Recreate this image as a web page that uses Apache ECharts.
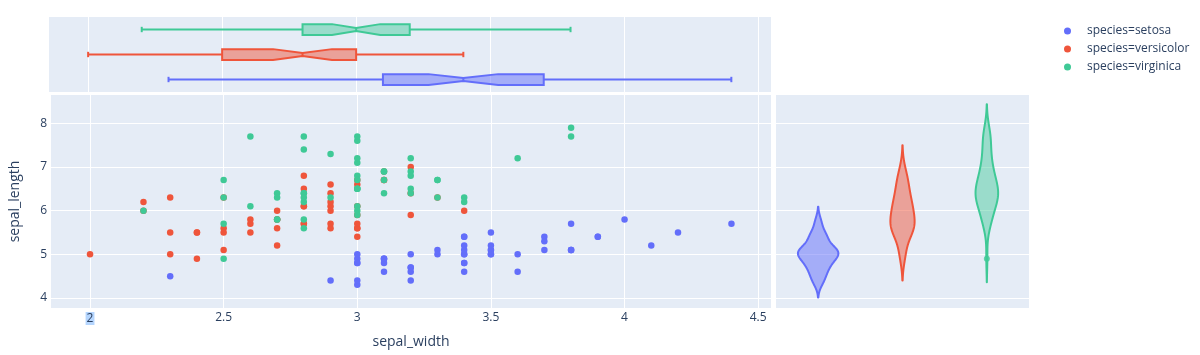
<!DOCTYPE html>
<html><head><meta charset="utf-8">
<script src="https://cdn.jsdelivr.net/npm/echarts@6/dist/echarts.min.js"></script>
<style>html,body{margin:0;padding:0;background:#fff}#c{width:1200px;height:355px}</style>
</head><body><div id="c"></div>
<script>
// ---------- data ----------
const speciesNames = ['setosa', 'versicolor', 'virginica'];
const legendNames = ['species=setosa', 'species=versicolor', 'species=virginica'];

const setosaSepalWidth = [3.5,3.0,3.2,3.1,3.6,3.9,3.4,3.4,2.9,3.1,3.7,3.4,3.0,3.0,4.0,4.4,3.9,3.5,3.8,3.8,3.4,3.7,3.6,3.3,3.4,3.0,3.4,3.5,3.4,3.2,3.1,3.4,4.1,4.2,3.1,3.2,3.5,3.1,3.0,3.4,3.5,2.3,3.2,3.5,3.8,3.0,3.8,3.2,3.7,3.3];
const setosaSepalLength = [5.1,4.9,4.7,4.6,5.0,5.4,4.6,5.0,4.4,4.9,5.4,4.8,4.8,4.3,5.8,5.7,5.4,5.1,5.7,5.1,5.4,5.1,4.6,5.1,4.8,5.0,5.0,5.2,5.2,4.7,4.8,5.4,5.2,5.5,4.9,5.0,5.5,4.9,4.4,5.1,5.0,4.5,4.4,5.0,5.1,4.8,5.1,4.6,5.3,5.0];

const versicolorSepalWidth = [3.2,3.2,3.1,2.3,2.8,2.8,3.3,2.4,2.9,2.7,2.0,3.0,2.2,2.9,2.9,3.1,3.0,2.7,2.2,2.5,3.2,2.8,2.5,2.8,2.9,3.0,2.8,3.0,2.9,2.6,2.4,2.4,2.7,2.7,3.0,3.4,3.1,2.3,3.0,2.5,2.6,3.0,2.6,2.3,2.7,3.0,2.9,2.9,2.5,2.8];
const versicolorSepalLength = [7.0,6.4,6.9,5.5,6.5,5.7,6.3,4.9,6.6,5.2,5.0,5.9,6.0,6.1,5.6,6.7,5.6,5.8,6.2,5.6,5.9,6.1,6.3,6.1,6.4,6.6,6.8,6.7,6.0,5.7,5.5,5.5,5.8,6.0,5.4,6.0,6.7,6.3,5.6,5.5,5.5,6.1,5.8,5.0,5.6,5.7,5.7,6.2,5.1,5.7];

const virginicaSepalWidth = [3.3,2.7,3.0,2.9,3.0,3.0,2.5,2.9,2.5,3.6,3.2,2.7,3.0,2.5,2.8,3.2,3.0,3.8,2.6,2.2,3.2,2.8,2.8,2.7,3.3,3.2,2.8,3.0,2.8,3.0,2.8,3.8,2.8,2.8,2.6,3.0,3.4,3.1,3.0,3.1,3.1,3.1,2.7,3.2,3.3,3.0,2.5,3.0,3.4,3.0];
const virginicaSepalLength = [6.3,5.8,7.1,6.3,6.5,7.6,4.9,7.3,6.7,7.2,6.5,6.4,6.8,5.7,5.8,6.4,6.5,7.7,7.7,6.0,6.9,5.6,7.7,6.3,6.7,7.2,6.2,6.1,6.4,7.2,7.4,7.9,6.4,6.3,6.1,7.7,6.3,6.4,6.0,6.9,6.7,6.9,5.8,6.8,6.7,6.7,6.3,6.5,6.2,5.9];

// marginal box statistics of sepal_width
const boxMin = [2.3, 2.0, 2.2];
const boxQ1 = [3.1, 2.5, 2.8];
const boxMedian = [3.4, 2.8, 3.0];
const boxQ3 = [3.7, 3.0, 3.2];
const boxMax = [4.4, 3.4, 3.8];
const boxNotchLow = [3.27, 2.69, 2.91];
const boxNotchHigh = [3.53, 2.91, 3.09];

// violin outlier points of sepal_length
const violinOutliers = [[], [], [4.9]];

const xTicks = [2, 2.5, 3, 3.5, 4, 4.5];
const yTicks = [4, 5, 6, 7, 8];
const xRange = [1.854, 4.548];
const yRange = [3.77, 8.65];

// ---------- styling ----------
const colors = ['#636efa', '#EF553B', '#3fc996'];
const fills = ['rgba(99,110,250,0.5)', 'rgba(239,85,59,0.5)', 'rgba(63,201,150,0.45)'];
const textColor = '#2a3f5f';
const font = '"Open Sans", verdana, arial, sans-serif';
const plotBg = '#E5ECF6';

const widths = [setosaSepalWidth, versicolorSepalWidth, virginicaSepalWidth];
const lengths = [setosaSepalLength, versicolorSepalLength, virginicaSepalLength];

// ---------- violin KDE (from sepal_length data) ----------
function quantile(sorted, p) {
  const n = sorted.length;
  let pos = (n + 1) * p - 1;
  pos = Math.max(0, Math.min(n - 1, pos));
  const lo = Math.floor(pos), f = pos - lo;
  const hi = Math.min(lo + 1, n - 1);
  return sorted[lo] + f * (sorted[hi] - sorted[lo]);
}
const violinCurves = lengths.map(vals => {
  const s = vals.slice().sort((a, b) => a - b);
  const n = s.length;
  const mean = s.reduce((a, b) => a + b, 0) / n;
  const sd = Math.sqrt(s.reduce((a, b) => a + (b - mean) * (b - mean), 0) / (n - 1));
  const iqr = quantile(s, 0.75) - quantile(s, 0.25);
  const bw = 1.059 * Math.min(sd, iqr / 1.349) * Math.pow(n, -0.2);
  const lo = s[0] - 2 * bw, hi = s[n - 1] + 2 * bw;
  const pts = [];
  const steps = 200;
  for (let k = 0; k <= steps; k++) {
    const y = lo + (hi - lo) * k / steps;
    let d = 0;
    for (const v of s) { const z = (y - v) / bw; d += Math.exp(-0.5 * z * z); }
    d /= n * bw * Math.sqrt(2 * Math.PI);
    pts.push([y, d]);
  }
  return pts;
});
const densityMax = Math.max(...violinCurves.map(c => Math.max(...c.map(p => p[1]))));

// ---------- chart ----------
const chart = echarts.init(document.getElementById('c'), null, { renderer: 'canvas' });

const gridLine = { show: true, lineStyle: { color: '#ffffff', width: 1 } };

function renderBox(params, api) {
  const i = params.dataIndex;
  const yc = api.coord([boxMedian[i], i])[1];
  const band = api.size([0, 1])[1];
  const h = band * 0.215;
  const hm = h * 0.27;
  const cap = h * 0.5;
  const X = v => api.coord([v, i])[0];
  const q1 = X(boxQ1[i]), q3 = X(boxQ3[i]), md = X(boxMedian[i]);
  const nl = X(boxNotchLow[i]), nh = X(boxNotchHigh[i]);
  const mn = X(boxMin[i]), mx = X(boxMax[i]);
  const poly = [
    [q1, yc - h], [nl, yc - h], [md, yc - hm], [nh, yc - h], [q3, yc - h],
    [q3, yc + h], [nh, yc + h], [md, yc + hm], [nl, yc + h], [q1, yc + h]
  ];
  const st = { stroke: colors[i], lineWidth: 2, fill: null };
  return {
    type: 'group',
    children: [
      { type: 'line', shape: { x1: mn, y1: yc, x2: q1, y2: yc }, style: st },
      { type: 'line', shape: { x1: q3, y1: yc, x2: mx, y2: yc }, style: st },
      { type: 'line', shape: { x1: mn, y1: yc - cap, x2: mn, y2: yc + cap }, style: st },
      { type: 'line', shape: { x1: mx, y1: yc - cap, x2: mx, y2: yc + cap }, style: st },
      { type: 'polygon', shape: { points: poly }, style: { fill: fills[i], stroke: colors[i], lineWidth: 2 } },
      { type: 'line', shape: { x1: md, y1: yc - hm, x2: md, y2: yc + hm }, style: st }
    ]
  };
}

function renderViolin(params, api) {
  const i = params.dataIndex;
  const band = api.size([1, 0])[0];
  const right = [], left = [];
  for (const [y, d] of violinCurves[i]) {
    const c = api.coord([i, y]);
    const off = d / densityMax * 0.24 * band;
    right.push([c[0] + off, c[1]]);
    left.push([c[0] - off, c[1]]);
  }
  const poly = right.concat(left.reverse());
  return { type: 'polygon', shape: { points: poly }, style: { fill: fills[i], stroke: colors[i], lineWidth: 2, lineJoin: 'round' } };
}

const series = [];
speciesNames.forEach((sp, i) => {
  series.push({
    name: legendNames[i], type: 'scatter', xAxisIndex: 0, yAxisIndex: 0,
    symbolSize: 6.5, itemStyle: { color: colors[i], opacity: 1 },
    data: widths[i].map((w, k) => [w, lengths[i][k]]), z: 3
  });
});
series.push({
  type: 'custom', name: 'box', xAxisIndex: 1, yAxisIndex: 1,
  renderItem: renderBox, encode: { x: 0, y: 1 },
  data: speciesNames.map((s, i) => [boxMedian[i], i]), z: 3, silent: true
});
series.push({
  type: 'custom', name: 'violin', xAxisIndex: 2, yAxisIndex: 2,
  renderItem: renderViolin, encode: { x: 0, y: 1 },
  data: speciesNames.map((s, i) => [i, 6]), z: 3, silent: true
});
speciesNames.forEach((sp, i) => {
  if (violinOutliers[i].length) {
    series.push({
      type: 'scatter', name: 'outliers-' + sp, xAxisIndex: 2, yAxisIndex: 2,
      symbolSize: 6, itemStyle: { color: colors[i] }, z: 4, silent: true,
      data: violinOutliers[i].map(v => [i, v])
    });
  }
});

chart.setOption({
  animation: false,
  textStyle: { fontFamily: font, color: textColor },
  legend: {
    data: legendNames, orient: 'vertical', left: 1064, top: 24, padding: 0,
    icon: 'circle', itemWidth: 7, itemHeight: 7, itemGap: 4,
    textStyle: { fontFamily: font, fontSize: 12, color: textColor, lineHeight: 14, padding: [0, 0, 0, 11] }
  },
  grid: [
    { left: 49, top: 95, width: 722, height: 213, show: true, backgroundColor: plotBg, borderWidth: 0 },
    { left: 49, top: 17, width: 722, height: 75, show: true, backgroundColor: plotBg, borderWidth: 0 },
    { left: 776, top: 95, width: 253, height: 213, show: true, backgroundColor: plotBg, borderWidth: 0 }
  ],
  xAxis: [
    {
      type: 'value', gridIndex: 0, min: xRange[0], max: xRange[1],
      name: 'sepal_width', nameLocation: 'middle', nameGap: 27,
      nameTextStyle: { fontFamily: font, fontSize: 14, color: textColor },
      axisLine: { show: false }, axisTick: { show: false, customValues: xTicks },
      axisLabel: {
        customValues: xTicks, margin: 4, fontFamily: font, fontSize: 12, color: textColor,
        formatter: v => (v === 2 ? '{hl|2}' : String(v)),
        rich: { hl: { backgroundColor: '#b4d5fe', padding: [1, 1, 0, 1], fontFamily: font, fontSize: 12, color: textColor } }
      },
      splitLine: gridLine
    },
    {
      type: 'value', gridIndex: 1, min: xRange[0], max: xRange[1],
      axisLine: { show: false }, axisTick: { show: false, customValues: xTicks },
      axisLabel: { show: false, customValues: xTicks }, splitLine: gridLine
    },
    {
      type: 'category', gridIndex: 2, data: speciesNames,
      axisLine: { show: false }, axisTick: { show: false },
      axisLabel: { show: false }, splitLine: { show: false }
    }
  ],
  yAxis: [
    {
      type: 'value', gridIndex: 0, min: yRange[0], max: yRange[1],
      name: 'sepal_length', nameLocation: 'middle', nameGap: 29,
      nameTextStyle: { fontFamily: font, fontSize: 14, color: textColor },
      axisLine: { show: false }, axisTick: { show: false, customValues: yTicks },
      axisLabel: { customValues: yTicks, margin: 4, fontFamily: font, fontSize: 12, color: textColor },
      splitLine: gridLine
    },
    {
      type: 'category', gridIndex: 1, data: speciesNames,
      axisLine: { show: false }, axisTick: { show: false },
      axisLabel: { show: false }, splitLine: { show: false }
    },
    {
      type: 'value', gridIndex: 2, min: yRange[0], max: yRange[1],
      axisLine: { show: false }, axisTick: { show: false, customValues: yTicks },
      axisLabel: { show: false, customValues: yTicks }, splitLine: gridLine
    }
  ],
  series: series
});
</script>
</body></html>
